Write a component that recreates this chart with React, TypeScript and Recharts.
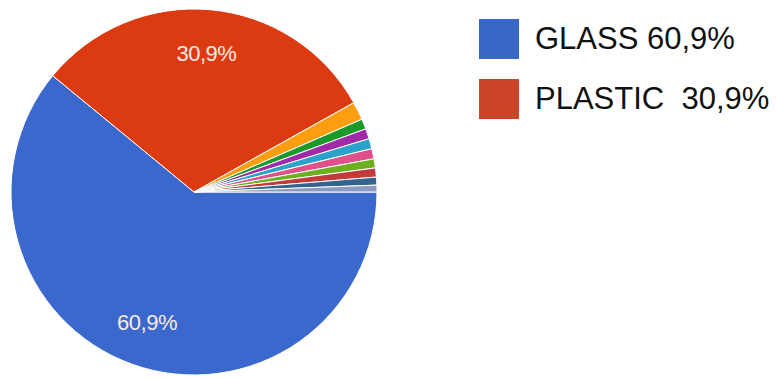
import React from 'react';
import { PieChart, Pie, Cell } from 'recharts';

const categories = ['GLASS', 'PLASTIC', 'METAL', 'PAPER', 'WOOD', 'TEXTILE', 'RUBBER', 'ORGANIC', 'CERAMIC', 'ELECTRONIC', 'OTHER'];
const shares = [60.9, 30.9, 1.6, 0.9, 0.9, 0.9, 0.9, 0.8, 0.8, 0.7, 0.6];
const sliceColors = ['#3a68cc', '#dc3a10', '#ff9d10', '#1b9a2a', '#a12aa8', '#2aa2cc', '#e0508a', '#6cb020', '#c23a3a', '#34648e', '#8a9ac0'];
const legendLabels = ['GLASS 60,9%', 'PLASTIC  30,9%'];
const legendColors = ['#3a68c8', '#cc4427'];

const data = categories.map((name, i) => ({ name, value: shares[i] }));

const RAD = Math.PI / 180;

function renderLabel(props: any) {
  const { cx, cy, midAngle, outerRadius, percent, value } = props;
  if (percent < 0.05) return null;
  const r = outerRadius * 0.76;
  const x = cx + r * Math.cos(-midAngle * RAD);
  const y = cy + r * Math.sin(-midAngle * RAD);
  return (
    <text
      x={x}
      y={y}
      fill="#f6ebe6"
      textAnchor="middle"
      dominantBaseline="central"
      fontFamily="Liberation Sans, Arial, sans-serif"
      fontSize={22}
      letterSpacing={-0.5}
    >
      {String(value).replace('.', ',') + '%'}
    </text>
  );
}

function LegendBox() {
  return (
    <div style={{ position: 'absolute', left: 479, top: 19, fontFamily: 'Liberation Sans, Arial, sans-serif' }}>
      {legendLabels.map((label, i) => (
        <div key={label} style={{ display: 'flex', alignItems: 'center', height: 40, marginBottom: 20 }}>
          <div style={{ width: 40, height: 40, background: legendColors[i], marginRight: 16 }} />
          <span style={{ fontSize: 31, color: '#111', whiteSpace: 'pre', lineHeight: '40px' }}>{label}</span>
        </div>
      ))}
    </div>
  );
}

export default function App() {
  return (
    <div style={{ position: 'absolute', left: 0, top: 0, width: 777, height: 378, background: '#fff' }}>
      <PieChart width={777} height={378} margin={{ top: 0, right: 0, bottom: 0, left: 0 }}>
        <Pie
          data={data}
          dataKey="value"
          nameKey="name"
          cx={194}
          cy={192}
          outerRadius={183}
          startAngle={0}
          endAngle={-360}
          stroke="#ffffff"
          strokeWidth={1}
          label={renderLabel}
          labelLine={false}
          isAnimationActive={false}
        >
          {data.map((d, i) => (
            <Cell key={d.name} fill={sliceColors[i]} />
          ))}
        </Pie>
      </PieChart>
      <LegendBox />
    </div>
  );
}
